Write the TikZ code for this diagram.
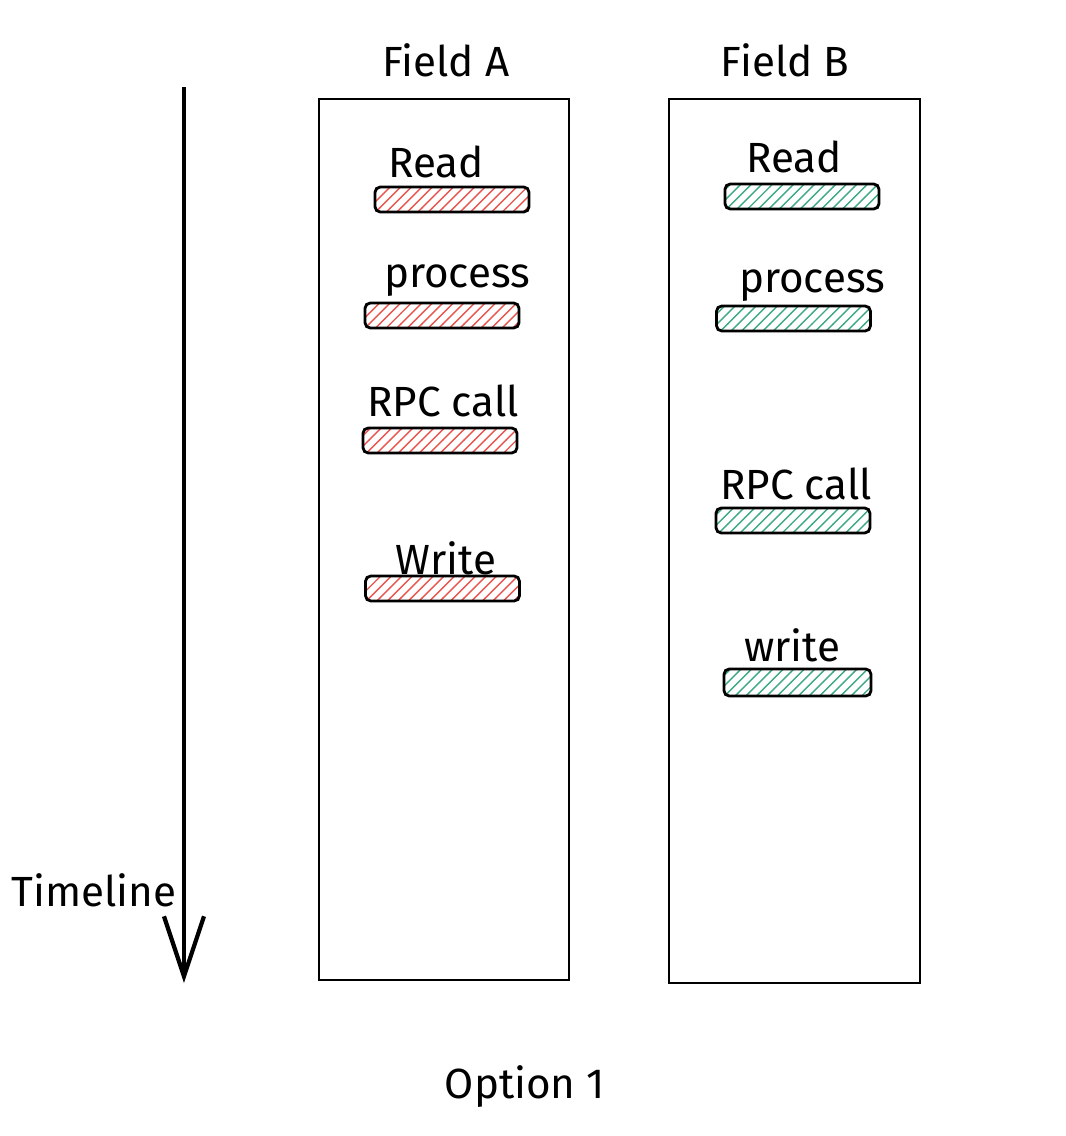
\documentclass[tikz,border=0pt]{standalone}
\usepackage{fontspec}
\setmainfont{Fira Sans}
\usetikzlibrary{patterns,arrows.meta}
\definecolor{hatchred}{HTML}{E8554E}
\definecolor{hatchgreen}{HTML}{3DAA80}
\tikzset{
  lbl/.style={font=\fontsize{12}{14}\selectfont},
  bar/.style={draw, thick, rounded corners=1.5pt, minimum width=1.54cm, minimum height=0.25cm, inner sep=0pt},
  redbar/.style={bar, pattern=north east lines, pattern color=hatchred},
  greenbar/.style={bar, pattern=north east lines, pattern color=hatchgreen},
  field/.style={draw, semithick}
}
\begin{document}
\begin{tikzpicture}
\useasboundingbox (0,0) rectangle (10.66,11.36);
\node[lbl] (titleA) at (4.46,10.76) {Field A};
\node[lbl] (titleB) at (7.85,10.76) {Field B};
\draw[field] (3.19,1.56) rectangle (5.69,10.37);
\draw[field] (6.69,1.53) rectangle (9.20,10.37);
\coordinate (tstart) at (1.84,10.49);
\coordinate (tend) at (1.84,1.53);
\draw[very thick, -{Straight Barb[length=6mm, width=4mm]}] (tstart) -- (tend);
\node[lbl] (timeline) at (0.94,2.46) {Timeline};
\node[lbl] (option) at (5.25,0.49) {Option 1};
\node[lbl] (readA) at (4.36,9.74) {Read};
\node[redbar] (readAbar) at (4.52,9.365) {};
\node[lbl] (processA) at (4.57,8.55) {process};
\node[redbar] (processAbar) at (4.42,8.205) {};
\node[lbl] (rpcA) at (4.43,7.35) {RPC call};
\node[redbar] (rpcAbar) at (4.40,6.955) {};
\node[lbl] (writeA) at (4.46,5.78) {Write};
\node[redbar] (writeAbar) at (4.425,5.475) {};
\node[lbl] (readB) at (7.94,9.79) {Read};
\node[greenbar] (readBbar) at (8.02,9.395) {};
\node[lbl] (processB) at (8.12,8.50) {process};
\node[greenbar] (processBbar) at (7.935,8.175) {};
\node[lbl] (rpcB) at (7.96,6.52) {RPC call};
\node[greenbar] (rpcBbar) at (7.93,6.155) {};
\node[lbl] (writeB) at (7.92,4.91) {write};
\node[greenbar, minimum width=1.47cm, minimum height=0.27cm] (writeBbar) at (7.975,4.535) {};
\end{tikzpicture}
\end{document}
